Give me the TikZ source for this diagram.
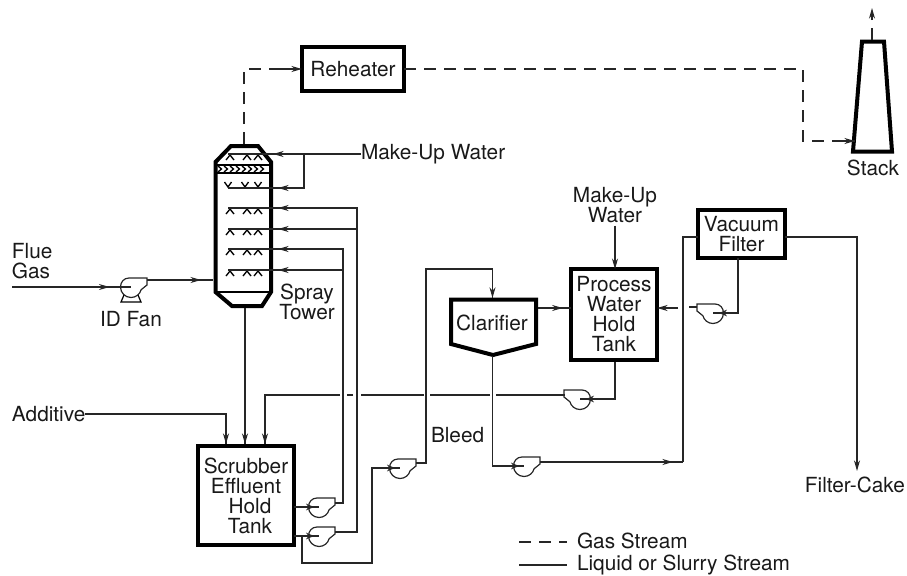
\documentclass[tikz,border=0pt]{standalone}
\usepackage{fontspec}
\setmainfont{TeX Gyre Heros}
\usetikzlibrary{arrows.meta,decorations.markings,calc}
\tikzset{
  flow/.style={draw=black!85,line width=0.85pt},
  gas/.style={flow,dash pattern=on 9pt off 6pt},
  wall/.style={draw=black,line width=3pt,line join=miter},
  tiphead/.style={-{Stealth[length=8pt,width=4.5pt]}},
  pumphead/.style={-{Stealth[length=6pt,width=5pt]}},
  tipat/.style={postaction={decorate},decoration={markings,mark=at position #1 with {\arrow{Stealth[length=8pt,width=4.5pt]}}}},
  lbl/.style={inner sep=0pt,outer sep=0pt,font=\fontsize{15.6}{15}\selectfont,align=center,text=black!90},
  box/.style={wall,fill=white,inner sep=0pt,outer sep=0pt,font=\fontsize{15.6}{15}\selectfont,align=center,text=black!90},
  pumpbody/.pic={\draw[flow,line width=0.9pt] (-10.5,0) arc[start angle=180,end angle=15,radius=10.5] -- (16,-2) -- (16,-9) -- (-2,-9) .. controls (-7,-9) and (-10.5,-5) .. (-10.5,0);},
  nozup/.pic={\foreach \nx in {230,247,258}{\draw[line width=1pt] (\nx-4,6) -- (\nx,1) -- (\nx+4,6);}},
}
\begin{document}
\begin{tikzpicture}[x=0.75pt,y=-0.75pt]
\useasboundingbox (0,0) rectangle (907,575);
% boxes
\node[box,minimum width=72pt,minimum height=74pt] (scrub) at (246,495.5) {Scrubber\\Effluent\\\hspace{6pt}Hold\\\hspace{6pt}Tank};
\node[box,minimum width=64.5pt,minimum height=68pt] (proc) at (614,314.5) {Process\\Water\\Hold\\Tank};
\node[box,minimum width=65pt,minimum height=36pt] (vac) at (741.5,234) {Vacuum\\Filter};
\node[box,minimum width=76.5pt,minimum height=33pt] (reh) at (353,69) {Reheater};
% tower
\draw[wall] (215.5,162) -- (231,146) -- (258,146) -- (271,162) -- (271,292) -- (262,306) -- (232,306) -- (215.5,292) -- cycle;
\draw[line width=1pt] (216,292) -- (271,292);
\draw[line width=1pt] (217,165) -- (270,165) (217,173) -- (270,173);
\foreach \cx in {218,224,...,262}{\draw[line width=1pt] (\cx,166) -- (\cx+3.5,169) -- (\cx,172);}
\coordinate (twTop) at (244,144);
\coordinate (twBot) at (245,308);
\coordinate (twFan) at (213,280);
\foreach \hy in {154,208,229,249,270}{\pic at (0,\hy) {nozup};}
\foreach \nx in {228,245,258}{\draw[line width=1pt] (\nx-3.5,182) -- (\nx,187) -- (\nx+3.5,182);}
\coordinate (h1) at (228,154);\coordinate (h2) at (228,188);\coordinate (h3) at (228,208);
\coordinate (h4) at (228,229);\coordinate (h5) at (228,249);\coordinate (h6) at (228,270);
% clarifier
\draw[wall,fill=white] (451,299.5) -- (536,299.5) -- (536,344) -- (493,355) -- (451,344) -- cycle;
\node[lbl] (clar) at (492,323) {Clarifier};
\coordinate (clTop) at (492.5,298);\coordinate (clBot) at (492.5,356);\coordinate (clR) at (538,308);
% stack
\draw[wall] (853,151.5) -- (862,41.5) -- (884,41.5) -- (892,151.5) -- cycle;
\coordinate (stTop) at (872,40);\coordinate (stTip) at (872,8);\coordinate (stL) at (855,141);
\node[lbl] (stack) at (873,168) {Stack};
% labels
\node[lbl,align=left,anchor=west] (flue) at (12,261) {Flue\\Gas};
\node[lbl] (idfan) at (131,319) {ID Fan};
\node[lbl,anchor=west] (mw1) at (361,154) {Make-Up Water};
\node[lbl] (mw2) at (615,205) {Make-Up\\Water};
\node[lbl] (spray) at (307,302) {Spray\\Tower};
\node[lbl,anchor=west] (add) at (12,414) {Additive};
\node[lbl,anchor=base west] (bleed) at (431,442) {Bleed};
\node[lbl,anchor=base east] (cake) at (905,492) {Filter-Cake};
\node[lbl,anchor=base west] (l1) at (577,548) {Gas Stream};
\node[lbl,anchor=base west] (l2) at (577,570.5) {Liquid or Slurry Stream};
% pumps
\coordinate (fan) at (131,287);
\coordinate (p1) at (319,507);\coordinate (p2) at (319,536);\coordinate (p3) at (400,468);
\coordinate (p4) at (580,399);\coordinate (p5) at (524,466);\coordinate (p6) at (713,313);
\coordinate (p1o) at (335,503);\coordinate (p2o) at (335,532);\coordinate (p3o) at (416,463);
\coordinate (p4o) at (564,394);\coordinate (p5o) at (540,462);\coordinate (p6o) at (697,307);
% gas
\coordinate (rehIn) at (280,69);
\draw[gas] (twTop) |- (rehIn);
\draw[flow,tiphead] (rehIn) -- (reh.west);
\coordinate (dk) at (803,69);
\draw[gas] (reh.east) -- (dk) |- (stL);
\draw[tiphead,flow] (835,141) -- (stL);
\draw[gas,tiphead] (stTop) -- (stTip);
% fan and flue gas
\coordinate (flueS) at (12,287);
\draw[flow,tipat=0.82] (flueS) -- (fan);
\draw[flow,tipat=0.82] (147,280) -- (twFan);
\draw[line width=0.9pt] (124,295) -- (121,302) -- (141,302) -- (138,295);
\pic at (fan) {pumpbody};
% make-up to tower
\coordinate (mwj) at (304,154);
\draw[flow] (mw1.west) -- (h1);
\draw[tiphead,flow] (295,154) -- (273,154);
\draw[flow] (mwj) |- (h2);
\draw[tiphead,flow] (298,188) -- (278,188);
% recycle lines
\coordinate (r1) at (357,208);\coordinate (r2) at (357,229);\coordinate (r3) at (343,249);\coordinate (r4) at (343,270);
\coordinate (r5) at (357,532);\coordinate (r6) at (343,503);
\draw[flow] (h3) -- (r1) -- (r5) -- (p2o);
\draw[flow] (h4) -- (r2);
\draw[flow] (h5) -- (r3) -- (r6) -- (p1o);
\draw[flow] (h6) -- (r4);
\foreach \ay in {208,229,249,270}{\draw[tiphead,flow] (298,\ay) -- (278,\ay);}
% tower to tank
\draw[flow] (twBot) -- (245,444);
\draw[tiphead,flow] (245,420) -- (245,444);
\coordinate (ad) at (226,414);
\draw[flow] (add.east) -- (ad) -- (226,444);
\draw[tiphead,flow] (226,420) -- (226,444);
% return line from process tank
\coordinate (ret) at (265,395);
\draw[flow] (p4o) -- (564,395) -- (496,395) (490,395) -- (430,395) (424,395) -- (361,395) (353,395) -- (347,395) (340,395) -- (ret) -- (265,444);
\draw[tiphead,flow] (265,420) -- (265,444);
\coordinate (pwb) at (615,362);\coordinate (pwc) at (615,399);
\draw[flow] (pwb) -- (pwc) -- (p4);
% tank to pumps
\draw[flow] (scrub.east |- p1) -- (p1);
\coordinate (bj) at (302,536);
\draw[flow] (scrub.east |- p2) -- (p2);
\coordinate (b1) at (302,563);\coordinate (b2) at (372,563);
\draw[flow] (bj) -- (b1) -- (b2) |- (p3);
% bleed
\coordinate (b3) at (426,463);\coordinate (b4) at (426,269);
\draw[flow] (p3o) -- (b3) -- (b4) -| (clTop);
\draw[tiphead,flow] (492.5,274) -- (clTop);
% clarifier to process tank
\draw[flow,tipat=0.75] (clR) -- (proc.west |- clR);
% clarifier underflow
\draw[flow] (clBot) |- (p5);
\coordinate (f1) at (683,462);\coordinate (f2) at (683,237);
\draw[flow,tipat=0.93] (p5o) -- (f1);
\draw[flow] (f1) -- (f2) -- (vac.west |- f2);
% filter
\coordinate (f3) at (738,313);
\draw[flow] (vac.south -| f3) -- (f3) -- (p6);
\coordinate (f4) at (857,237);\coordinate (f5) at (857,471);
\draw[flow,tiphead] (vac.east |- f2) -- (f4) -- (f5);
\coordinate (p6e) at (689,307);
\draw[flow] (p6o) -- (p6e);
\coordinate (f6) at (678,308);
\draw[tiphead,flow] (f6) -- (proc.east |- f6);
% make-up water 2
\draw[flow,tiphead] (mw2.south) ++(0,3) -- (proc.north -| mw2.south);
% pumps on top
\foreach \pp in {p1,p2,p3,p5}{\pic at (\pp) {pumpbody};\draw[flow,pumphead] ($(\pp)+(-14,0)$) -- ($(\pp)+(-5,0)$);}
\pic[xscale=-1] at (p4) {pumpbody};
\pic[xscale=-1] at (p6) {pumpbody};
\foreach \pp in {p4,p6}{\draw[flow,pumphead] ($(\pp)+(15,0)$) -- ($(\pp)+(6,0)$);}
% legend
\coordinate (la) at (519,542);\coordinate (lb) at (567,542);\coordinate (lc) at (519,565);\coordinate (ld) at (567,565);
\draw[gas] (la) -- (lb);
\draw[flow] (lc) -- (ld);
\end{tikzpicture}
\end{document}
